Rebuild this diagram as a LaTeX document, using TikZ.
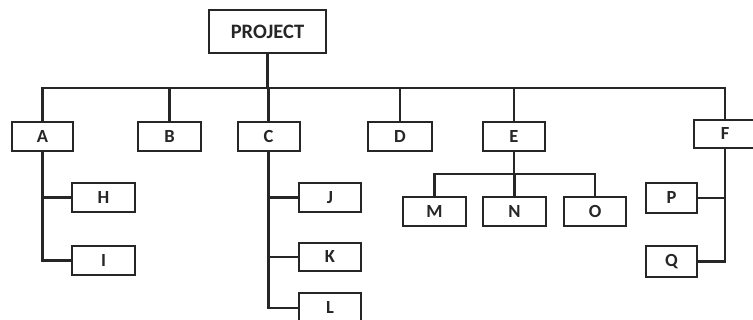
\documentclass[tikz,border=0pt]{standalone}
\usepackage{fontspec}
\setmainfont{Carlito}
\begin{document}
\begin{tikzpicture}[x=1pt,y=-1pt,
  box/.style={draw=black!85, line width=2pt, rectangle, inner sep=0pt, minimum height=29pt,
    font=\fontsize{18.5}{20}\selectfont\bfseries, text=black!85},
  conn/.style={draw=black!85, line width=2.2pt, line cap=rect}]
\useasboundingbox (0,0) rectangle (753,320);
\fill[white] (0,0) rectangle (753,320);
\node[box, minimum width=117pt, minimum height=43pt, font=\fontsize{20.5}{22}\selectfont\bfseries] (proj) at (267.5,31.5) {PROJECT};
\node[box, minimum width=61pt] (A) at (42.5,136.5) {A};
\node[box, minimum width=63pt] (B) at (169.5,136.5) {B};
\node[box, minimum width=62pt] (C) at (268.5,136.5) {C};
\node[box, minimum width=64pt] (D) at (400,136.5) {D};
\node[box, minimum width=62pt] (E) at (514,136.5) {E};
\node[box, minimum width=62pt, minimum height=28pt] (F) at (725,134) {F};
\node[box, minimum width=63pt] (H) at (103.5,197.5) {H};
\node[box, minimum width=63pt] (I) at (103.5,260.5) {I};
\node[box, minimum width=62pt] (J) at (330,197.5) {J};
\node[box, minimum width=62pt, minimum height=28pt] (K) at (330,257) {K};
\node[box, minimum width=62pt] (L) at (330,308) {L};
\node[box, minimum width=63pt] (M) at (434.5,211.5) {M};
\node[box, minimum width=63pt] (N) at (514.5,211.5) {N};
\node[box, minimum width=62pt] (O) at (595,211.5) {O};
\node[box, minimum width=51pt, minimum height=30pt] (P) at (671.5,198) {P};
\node[box, minimum width=51pt, minimum height=31pt] (Q) at (671.5,261.5) {Q};
\coordinate (bus) at (0,88);
\coordinate (ebus) at (0,174);
% main bus
\draw[conn] (proj.south) -- (proj.south |- bus);
\draw[conn] (A.north) -- (A.north |- bus) -- (F.north |- bus) -- (F.north);
\foreach \n in {B,C,D,E} \draw[conn] (\n.north) -- (\n.north |- bus);
% A children
\draw[conn] (A.south) |- (I.west);
\draw[conn] (H.west) -- (H.west -| A.south);
% C children
\draw[conn] (C.south) |- (L.west);
\draw[conn] (J.west) -- (J.west -| C.south);
\draw[conn] (K.west) -- (K.west -| C.south);
% E children
\draw[conn] (E.south) -- (E.south |- ebus);
\draw[conn] (M.north) -- (M.north |- ebus) -- (O.north |- ebus) -- (O.north);
\draw[conn] (N.north) -- (N.north |- ebus);
% F children
\draw[conn] (F.south) |- (Q.east);
\draw[conn] (P.east) -- (P.east -| F.south);
\end{tikzpicture}
\end{document}
